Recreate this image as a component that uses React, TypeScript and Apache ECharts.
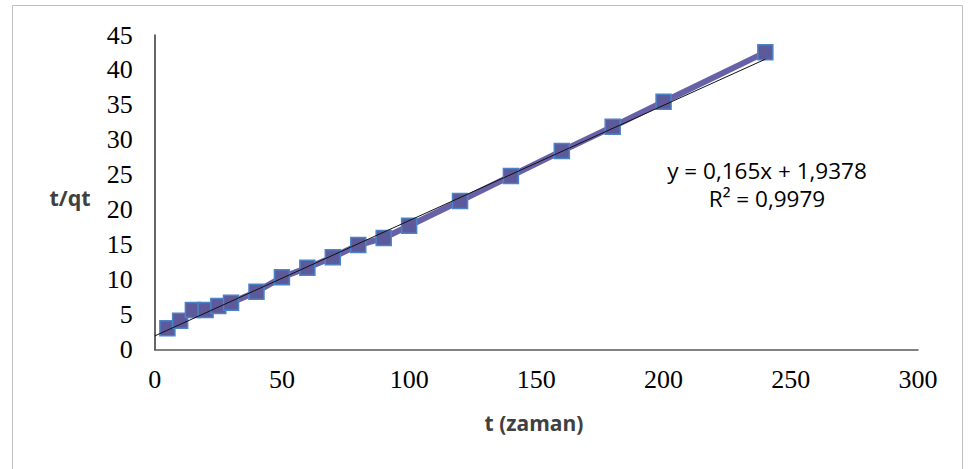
import React, { useEffect, useRef } from "react";
import * as echarts from "echarts";

const timeValues = [5, 10, 15, 20, 25, 30, 40, 50, 60, 70, 80, 90, 100, 120, 140, 160, 180, 200, 240];
const tqtValues = [3.03, 4.12, 5.65, 5.65, 6.22, 6.7, 8.27, 10.33, 11.7, 13.19, 14.95, 15.95, 17.71, 21.24, 24.82, 28.4, 31.87, 35.45, 42.52];
const trendX = [0, 240];
const trendY = [1.9378, 41.5378];
const equationLines = ["y = 0,165x + 1,9378", "R² = 0,9979"];
const xAxisTitle = "t (zaman)";
const yAxisTitle = "t/qt";

export default function App() {
  const ref = useRef<HTMLDivElement>(null);
  useEffect(() => {
    document.body.style.margin = "0";
    const chart = echarts.init(ref.current!, undefined, { renderer: "svg" });
    const serif = "'Liberation Serif', 'Times New Roman', serif";
    const sans = "'Open Sans', 'Liberation Sans', sans-serif";
    chart.setOption({
      animation: false,
      backgroundColor: "#ffffff",
      grid: { left: 154.7, right: 50, top: 35, bottom: 119.5, containLabel: false },
      xAxis: {
        type: "value",
        min: 0,
        max: 300,
        interval: 50,
        splitLine: { show: false },
        axisTick: { show: false },
        axisLine: { show: true, lineStyle: { color: "#595959", width: 1.5 } },
        axisLabel: { color: "#000", fontFamily: serif, fontSize: 26, margin: 17 },
      },
      yAxis: {
        type: "value",
        min: 0,
        max: 45,
        interval: 5,
        splitLine: { show: false },
        axisTick: { show: false },
        axisLine: { show: true, onZero: false, lineStyle: { color: "#333", width: 1.5 } },
        axisLabel: { color: "#000", fontFamily: serif, fontSize: 26, margin: 22 },
      },
      graphic: [
        {
          type: "rect",
          shape: { x: 12.5, y: 5.5, width: 950, height: 480 },
          style: { fill: "none", stroke: "#bfbfbf", lineWidth: 1 },
          silent: true,
          z: -10,
        },
        {
          type: "text",
          x: 70,
          y: 197,
          style: {
            text: yAxisTitle,
            font: "bold 21.5px " + sans,
            fill: "#404040",
            textAlign: "center",
            textVerticalAlign: "middle",
          },
        },
        {
          type: "text",
          x: 534,
          y: 423,
          style: {
            text: xAxisTitle,
            font: "bold 21px " + sans,
            fill: "#404040",
            textAlign: "center",
            textVerticalAlign: "middle",
          },
        },
        {
          type: "text",
          x: 767,
          y: 184.5,
          style: {
            text: equationLines.join("\n"),
            font: "22.5px " + sans,
            lineHeight: 28,
            fill: "#000",
            textAlign: "center",
            textVerticalAlign: "middle",
          },
        },
      ],
      series: [
        {
          type: "line",
          data: timeValues.map((t, i) => [t, tqtValues[i]]),
          symbol: "rect",
          symbolSize: 15,
          lineStyle: { color: "#6762a8", width: 6 },
          itemStyle: { color: "#5d5a9b", borderColor: "#4a83c8", borderWidth: 1.5 },
          z: 2,
        },
        {
          type: "line",
          data: trendX.map((t, i) => [t, trendY[i]]),
          symbol: "none",
          lineStyle: { color: "#111", width: 1 },
          z: 3,
        },
      ],
    });
    return () => chart.dispose();
  }, []);
  return <div ref={ref} style={{ width: 968, height: 469 }} />;
}
